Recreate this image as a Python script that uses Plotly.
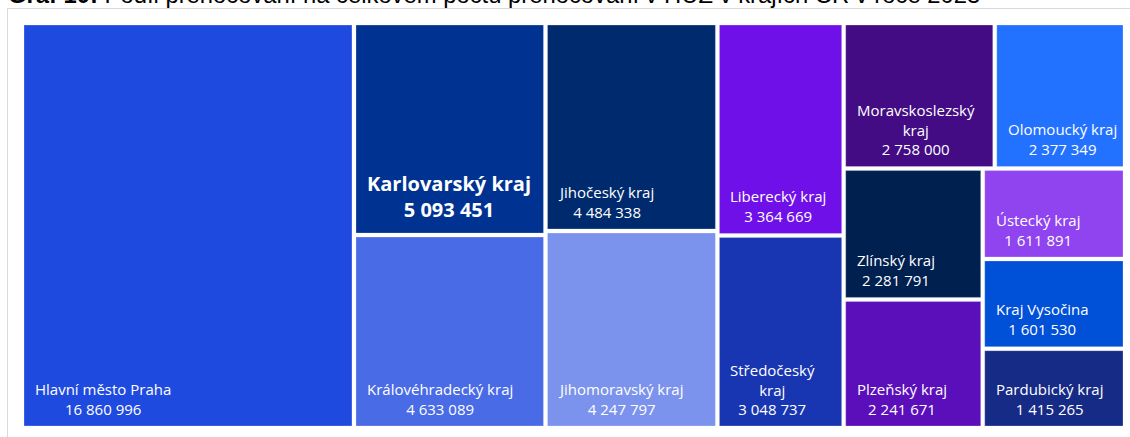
import plotly.graph_objects as go

# ---- data ----
regions = ["Hlavní město Praha", "Karlovarský kraj", "Královéhradecký kraj", "Jihočeský kraj",
           "Jihomoravský kraj", "Liberecký kraj", "Středočeský kraj", "Moravskoslezský kraj",
           "Olomoucký kraj", "Zlínský kraj", "Plzeňský kraj", "Ústecký kraj",
           "Kraj Vysočina", "Pardubický kraj"]
overnights = [16860996, 5093451, 4633089, 4484338, 4247797, 3364669, 3048737, 2758000,
              2377349, 2281791, 2241671, 1611891, 1601530, 1415265]
colors = ["#1F4AE0", "#003391", "#4A6BE6", "#002A6E", "#7B93EC", "#7010E8", "#1836B2",
          "#430C84", "#2272FF", "#002050", "#5B0FBA", "#8F44F0", "#0050D8", "#162B86"]
highlight = "Karlovarský kraj"
wrapped = {"Středočeský kraj": "Středočeský<br>kraj",
           "Moravskoslezský kraj": "Moravskoslezský<br>kraj"}
title_bold = "Graf 10:"
title_text = " Podíl přenocování na celkovém počtu přenocování v HUZ v krajích ČR v roce 2023"

# ---- canvas / layout geometry (pixel-like axis units) ----
W, H = 1130, 437
AREA = (22, 23, 1125, 428)   # treemap area: left, top, right, bottom
GAP = 2                        # half of white gap between tiles
RATIO = 0.9


def squarify(values, x0, y0, x1, y1, ratio):
    """Squarified treemap (Bruls et al., d3-style)."""
    n = len(values)
    rects = [None] * n
    value = float(sum(values))
    i0 = 0
    while i0 < n:
        dx, dy = x1 - x0, y1 - y0
        i1 = i0
        sumv = values[i1]
        i1 += 1
        minv = maxv = sumv
        alpha = max(dy / dx, dx / dy) / (value * ratio)
        beta = sumv * sumv * alpha
        min_ratio = max(maxv / beta, beta / minv)
        while i1 < n:
            v = values[i1]
            s2 = sumv + v
            mn, mx = min(minv, v), max(maxv, v)
            beta = s2 * s2 * alpha
            new_ratio = max(mx / beta, beta / mn)
            if new_ratio > min_ratio:
                break
            sumv, minv, maxv, min_ratio = s2, mn, mx, new_ratio
            i1 += 1
        if dx < dy:
            yb = y0 + dy * sumv / value
            xx = x0
            for i in range(i0, i1):
                w = dx * values[i] / sumv
                rects[i] = (xx, y0, xx + w, yb)
                xx += w
            y0 = yb
        else:
            xb = x0 + dx * sumv / value
            yy = y0
            for i in range(i0, i1):
                h = dy * values[i] / sumv
                rects[i] = (x0, yy, xb, yy + h)
                yy += h
            x0 = xb
        value -= sumv
        i0 = i1
    return rects


def fmt(v):
    return f"{v:,}".replace(",", "\u00a0")


rects = squarify(overnights, *AREA, RATIO)

fig = go.Figure()
for name, val, col, (x0, y0, x1, y1) in zip(regions, overnights, colors, rects):
    a, b, c, d = x0 + GAP, y0 + GAP, x1 - GAP, y1 - GAP
    fig.add_trace(go.Scatter(
        x=[a, c, c, a, a], y=[b, b, d, d, b], mode="lines", fill="toself",
        fillcolor=col, line=dict(color="rgba(255,255,255,0.25)", width=1),
        hoveron="fills", name=name, text=f"{name}: {fmt(val)}", hoverinfo="text",
        showlegend=False))
    label = wrapped.get(name, name)
    if name == highlight:
        txt = f"<b>{label}<br>{fmt(val)}</b>"
        size, pad = 20, 8.5
    else:
        txt = f"{label}<br>{fmt(val)}"
        size, pad = 15, 5.3
    fig.add_annotation(x=a + 9, y=d - pad, xref="x", yref="y", xanchor="left", yanchor="bottom",
                       align="center", showarrow=False, text=txt,
                       font=dict(family="Open Sans", size=size, color="white"))

# frame around the visual
fig.add_shape(type="rect", xref="x", yref="y", x0=7.5, y0=8.5, x1=W + 20, y1=H + 20,
              line=dict(color="#D9D9D9", width=1), fillcolor="rgba(0,0,0,0)", layer="below")

# chart title (partly cut off at the top, as in the reference)
fig.add_annotation(x=6, y=10, xref="x", yref="y", xanchor="left", yanchor="bottom",
                   showarrow=False, text=f"<b>{title_bold}</b>{title_text}",
                   font=dict(family="Liberation Sans", size=23.8, color="black"))

fig.update_xaxes(range=[0, W], visible=False, fixedrange=True)
fig.update_yaxes(range=[H, 0], visible=False, fixedrange=True)
fig.update_layout(width=W, height=H, margin=dict(l=0, r=0, t=0, b=0),
                  paper_bgcolor="white", plot_bgcolor="white", hovermode="closest")

fig.write_html("out.html", config={"displayModeBar": False},
               post_script="document.body.style.margin='0px';")
